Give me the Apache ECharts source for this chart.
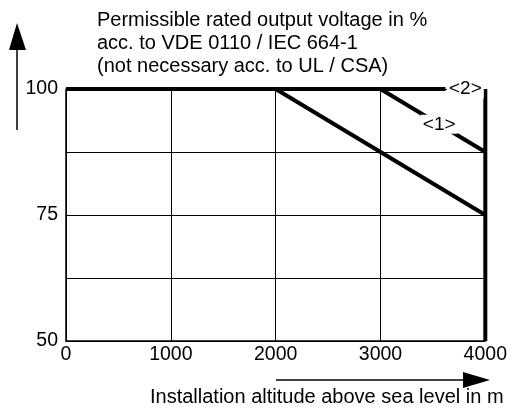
<!DOCTYPE html>
<html>
<head>
<meta charset="utf-8">
<script src="https://cdn.jsdelivr.net/npm/echarts@6/dist/echarts.min.js"></script>
<style>
  html, body { margin: 0; padding: 0; background: #fff; }
  #chart { width: 510px; height: 413px; }
</style>
</head>
<body>
<div id="chart"></div>
<script>
  // values
  var xTicks = [0, 1000, 2000, 3000, 4000];
  var yLabels = [50, 75, 100];
  var topLine = [[0, 100], [3620, 100]];          // 100 % up to the <2> mark
  var derateA = [[2000, 100], [4000, 75]];        // main derating curve
  var derate1 = [[3000, 100], [4000, 87.5]];      // curve <1>
  var limitLine = [[4000, 50], [4000, 100]];      // altitude limit
  var marks = [
    { name: '<2>', value: [3810, 100] },
    { name: '<1>', value: [3560, 93] }
  ];
  var titleLines = [
    'Permissible rated output voltage in %',
    'acc. to VDE 0110 / IEC 664-1',
    '(not necessary acc. to UL / CSA)'
  ];
  var xName = 'Installation altitude above sea level in m';

  var font = '"Liberation Sans", Arial, sans-serif';
  var chart = echarts.init(document.getElementById('chart'), null, { renderer: 'canvas' });

  function thick(data) {
    return {
      type: 'line',
      data: data,
      symbol: 'none',
      clip: false,
      lineStyle: { color: '#000', width: 4 },
      z: 5,
      silent: true
    };
  }

  chart.setOption({
    animation: false,
    backgroundColor: '#fff',
    grid: { left: 66, top: 89, right: 24, bottom: 72 },
    xAxis: {
      type: 'value',
      min: 0,
      max: 4000,
      interval: 1000,
      axisLine: { show: true, lineStyle: { color: '#000', width: 1.5 } },
      axisTick: { show: false },
      splitLine: { show: true, lineStyle: { color: '#000', width: 1 } },
      axisLabel: {
        color: '#000', fontSize: 19.5, fontFamily: font, margin: 4,
        formatter: function (v) { return xTicks.indexOf(v) >= 0 ? String(v) : ''; }
      }
    },
    yAxis: {
      type: 'value',
      min: 50,
      max: 100,
      interval: 12.5,
      axisLine: { show: true, lineStyle: { color: '#000', width: 1.5 } },
      axisTick: { show: false },
      splitLine: { show: true, lineStyle: { color: '#000', width: 1 } },
      axisLabel: {
        color: '#000', fontSize: 19.5, fontFamily: font, margin: 8,
        formatter: function (v) { return yLabels.indexOf(v) >= 0 ? String(v) : ''; }
      }
    },
    series: [
      thick(topLine),
      thick(derateA),
      thick(derate1),
      thick(limitLine),
      {
        type: 'scatter',
        data: marks,
        symbolSize: 0,
        z: 10,
        silent: true,
        itemStyle: { opacity: 1, color: '#000' },
        label: {
          show: true,
          position: 'inside',
          formatter: '{b}',
          color: '#000',
          fontSize: 19,
          fontFamily: font,
          textBorderWidth: 0,
          opacity: 1,
          backgroundColor: '#fff',
          padding: [0, 2]
        }
      }
    ],
    graphic: [
      {
        type: 'text', left: 97, top: 9,
        style: { text: titleLines.join('\n'), fontSize: 20, lineHeight: 23, fontFamily: font, fill: '#000' }
      },
      {
        type: 'line',
        shape: { x1: 17, y1: 48, x2: 17, y2: 130 },
        style: { stroke: '#000', lineWidth: 1.5 }
      },
      {
        type: 'polygon',
        shape: { points: [[17, 23], [9, 50], [26, 50]] },
        style: { fill: '#000' }
      },
      {
        type: 'line',
        shape: { x1: 276, y1: 380, x2: 465, y2: 380 },
        style: { stroke: '#000', lineWidth: 1.5 }
      },
      {
        type: 'polygon',
        shape: { points: [[490, 380], [463, 372], [463, 388]] },
        style: { fill: '#000' }
      },
      {
        type: 'text', left: 150, top: 387,
        style: { text: xName, fontSize: 20, fontFamily: font, fill: '#000' }
      }
    ]
  });
</script>
</body>
</html>
